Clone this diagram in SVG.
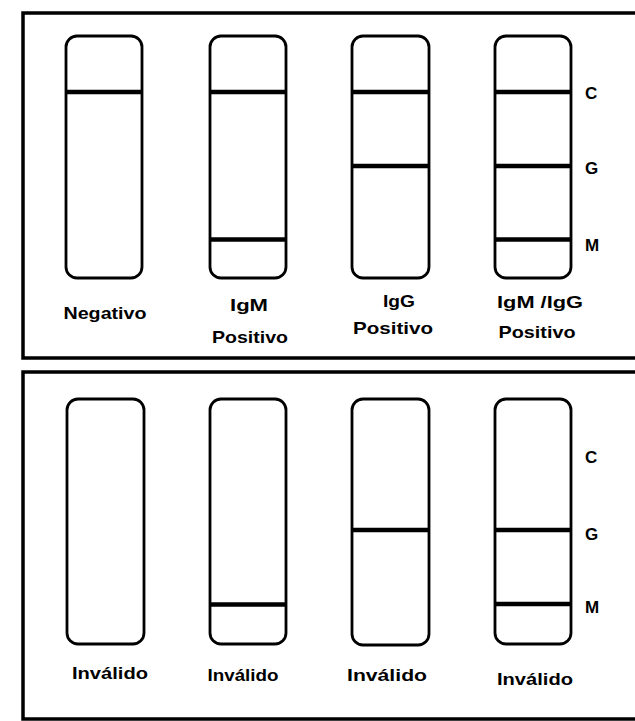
<svg xmlns="http://www.w3.org/2000/svg" width="635" height="721" viewBox="0 0 635 721">
<style>
.panel{fill:none;stroke:#000;stroke-width:3.5}
.strip{fill:#fff;stroke:#000;stroke-width:2.8}
.band{stroke:#000;stroke-width:4.5}
.lbl{font-family:"Liberation Sans",Arial,sans-serif;font-weight:bold;font-size:17px;fill:#000;text-anchor:middle}
.key{font-family:"Liberation Sans",Arial,sans-serif;font-weight:bold;font-size:17px;fill:#000}
</style>
<rect width="635" height="721" fill="#fff"/>
<g id="panel-top">
<path class="panel" d="M640 13 H23 V358 H640"/>
</g>
<g id="panel-bottom">
<path class="panel" d="M640 372 H23 V719 H640"/>
</g>
<g id="strip-negativo">
<rect class="strip" x="66" y="36" width="76" height="242" rx="11"/>
<line class="band" x1="67" y1="92" x2="141" y2="92"/>
<text class="lbl" x="105" y="319" textLength="83" lengthAdjust="spacingAndGlyphs">Negativo</text>
</g>
<g id="strip-igm">
<rect class="strip" x="210" y="36" width="76" height="242" rx="11"/>
<line class="band" x1="211" y1="92" x2="285" y2="92"/>
<line class="band" x1="211" y1="239.5" x2="285" y2="239.5"/>
<text class="lbl" x="249" y="311" textLength="38" lengthAdjust="spacingAndGlyphs">IgM</text>
<text class="lbl" x="250" y="343" textLength="76" lengthAdjust="spacingAndGlyphs">Positivo</text>
</g>
<g id="strip-igg">
<rect class="strip" x="352" y="36" width="77" height="242" rx="11"/>
<line class="band" x1="353" y1="92" x2="428" y2="92"/>
<line class="band" x1="353" y1="166" x2="428" y2="166"/>
<text class="lbl" x="399" y="307" textLength="32" lengthAdjust="spacingAndGlyphs">IgG</text>
<text class="lbl" x="393" y="334" textLength="80" lengthAdjust="spacingAndGlyphs">Positivo</text>
</g>
<g id="strip-igm-igg">
<rect class="strip" x="495" y="36" width="76" height="242" rx="11"/>
<line class="band" x1="496" y1="92" x2="570" y2="92"/>
<line class="band" x1="496" y1="166" x2="570" y2="166"/>
<line class="band" x1="496" y1="239.5" x2="570" y2="239.5"/>
<text class="lbl" x="540" y="308" textLength="86" lengthAdjust="spacingAndGlyphs">IgM /IgG</text>
<text class="lbl" x="537" y="338" textLength="77" lengthAdjust="spacingAndGlyphs">Positivo</text>
</g>
<g id="key-top">
<text class="key" x="585" y="99">C</text>
<text class="key" x="585" y="174">G</text>
<text class="key" x="585" y="251">M</text>
</g>
<g id="strip-invalid-1">
<rect class="strip" x="67" y="399" width="77" height="245" rx="11"/>
<text class="lbl" x="110" y="679" textLength="76" lengthAdjust="spacingAndGlyphs">Inválido</text>
</g>
<g id="strip-invalid-2">
<rect class="strip" x="210" y="399" width="76" height="245" rx="11"/>
<line class="band" x1="211" y1="604.5" x2="285" y2="604.5"/>
<text class="lbl" x="243" y="681" textLength="71" lengthAdjust="spacingAndGlyphs">Inválido</text>
</g>
<g id="strip-invalid-3">
<rect class="strip" x="352" y="399" width="77" height="246" rx="11"/>
<line class="band" x1="353" y1="530" x2="428" y2="530"/>
<text class="lbl" x="387" y="681" textLength="80" lengthAdjust="spacingAndGlyphs">Inválido</text>
</g>
<g id="strip-invalid-4">
<rect class="strip" x="495" y="399" width="76" height="245" rx="11"/>
<line class="band" x1="496" y1="530" x2="570" y2="530"/>
<line class="band" x1="496" y1="604" x2="570" y2="604"/>
<text class="lbl" x="535" y="685" textLength="76" lengthAdjust="spacingAndGlyphs">Inválido</text>
</g>
<g id="key-bottom">
<text class="key" x="585" y="463">C</text>
<text class="key" x="585" y="540">G</text>
<text class="key" x="585" y="613">M</text>
</g>
<g id="connectors"/>
</svg>
